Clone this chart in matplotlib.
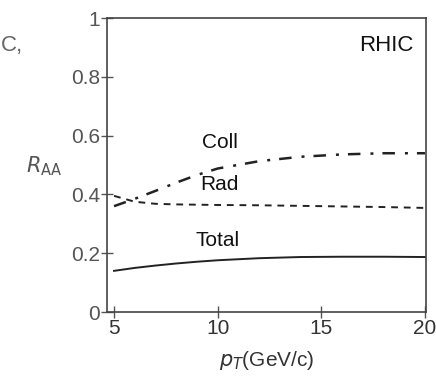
import matplotlib
matplotlib.use("Agg")
import matplotlib.pyplot as plt
import numpy as np

plt.rcParams['font.family'] = ['Liberation Sans', 'DejaVu Sans']

pt = [5, 6, 7, 8, 9, 10, 12, 14, 16, 18, 20]
total = [0.140, 0.150, 0.158, 0.165, 0.171, 0.176, 0.183, 0.187, 0.188, 0.188, 0.187]
coll = [0.360, 0.385, 0.412, 0.440, 0.466, 0.488, 0.513, 0.528, 0.536, 0.540, 0.540]
rad = [0.395, 0.375, 0.368, 0.366, 0.365, 0.364, 0.363, 0.361, 0.359, 0.357, 0.354]

xticks = [5, 10, 15, 20]
yticks = [0, 0.2, 0.4, 0.6, 0.8, 1]
yticklabels = ['0', '0.2', '0.4', '0.6', '0.8', '1']

fig = plt.figure(figsize=(4.36, 3.78), dpi=100)
ax = fig.add_axes([107/436, 1-312/378, (426-107)/436, (312-18)/378])

ax.plot(pt, total, color='#222222', lw=1.4, ls='-')
ax.plot(pt, coll, color='#222222', lw=1.8, ls=(0, (5, 4, 1.2, 3.6)))
ax.plot(pt, rad, color='#222222', lw=1.4, ls=(0, (3.5, 3)))

ax.set_xlim(4.66, 20.05)
ax.set_ylim(0, 1)
ax.set_xticks(xticks)
ax.set_yticks(yticks)
ax.set_yticklabels(yticklabels)
ax.tick_params(direction='inout', length=8, width=1, colors='#555555', labelsize=15, labelcolor='#555555', pad=1)
ax.tick_params(axis='x', labelcolor='#333333')
for s in ax.spines.values():
    s.set_color('#444444')
    s.set_linewidth(1.2)

ax.text(10.1, 0.545, 'Coll', fontsize=15, ha='center', va='bottom', color='#111111')
ax.text(10.1, 0.40, 'Rad', fontsize=15, ha='center', va='bottom', color='#111111')
ax.text(10.0, 0.21, 'Total', fontsize=15, ha='center', va='bottom', color='#111111')
ax.text(0.96, 0.905, 'RHIC', fontsize=16, ha='right', va='center', transform=ax.transAxes, color='#111111')

fig.text(44/436, 1-166/378, r'$R_{\mathrm{AA}}$', fontsize=15, ha='center', va='center', color='#555555')
fig.text(267/436, 1-360/378, r'$p_T$(GeV/c)', fontsize=15, ha='center', va='center', color='#333333')
fig.text(1/436, 1-45/378, 'C,', fontsize=16, ha='left', va='center', color='#666666')

fig.savefig('out.png', dpi=100)
